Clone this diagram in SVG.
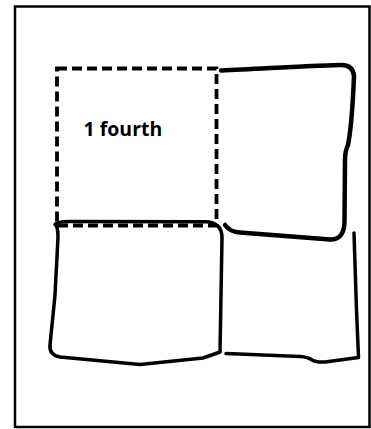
<svg xmlns="http://www.w3.org/2000/svg" width="371" height="429" viewBox="0 0 371 429">
  <style>
    .ink { fill: none; stroke: #000; stroke-linecap: round; stroke-linejoin: round; }
    .frame { fill: #fff; stroke: #000; stroke-width: 2.5; }
    .dash { fill: none; stroke: #000; stroke-width: 3.8; stroke-dasharray: 10 5; }
    .label { font-family: "Open Sans", "Liberation Sans", sans-serif; font-weight: bold; font-size: 19.5px; fill: #000; }
  </style>
  <rect width="371" height="429" fill="#fff"/>
  <g id="frame">
    <rect class="frame" x="15" y="6.5" width="354.5" height="420.5"/>
  </g>
  <g id="connectors"></g>
  <g id="bottom-left-square">
    <path class="ink" stroke-width="3.5" d="M 55 224.5 Q 57 221.5 70 221.5 L 205 221.8 Q 222 222 222 238 L 220 352 Q 212 355 203 358 L 140 364.5 L 60 357 Q 49 355 50 345 L 55 295 L 58 237 Q 58 229 56 225"/>
  </g>
  <g id="bottom-right-square">
    <path class="ink" stroke-width="3.5" d="M 226 353.5 L 300 356.5 Q 308 357 312 360 Q 316 362.5 325 362 L 358.5 357.5 L 356.5 310 L 354 233"/>
  </g>
  <g id="top-right-square">
    <path class="ink" stroke-width="4.5" d="M 221 70.5 C 260 69 300 66 340 65 Q 353 64.5 354 76 C 353 100 352 125 348 145 Q 345 151 345 160 L 344.5 222 Q 344 240 330 239.5 L 240 232.5 Q 230 232 225 225"/>
  </g>
  <g id="one-fourth">
    <rect class="dash" x="57" y="68.5" width="159.5" height="157"/>
    <text class="label" x="83.5" y="135.7">1 fourth</text>
  </g>
</svg>
